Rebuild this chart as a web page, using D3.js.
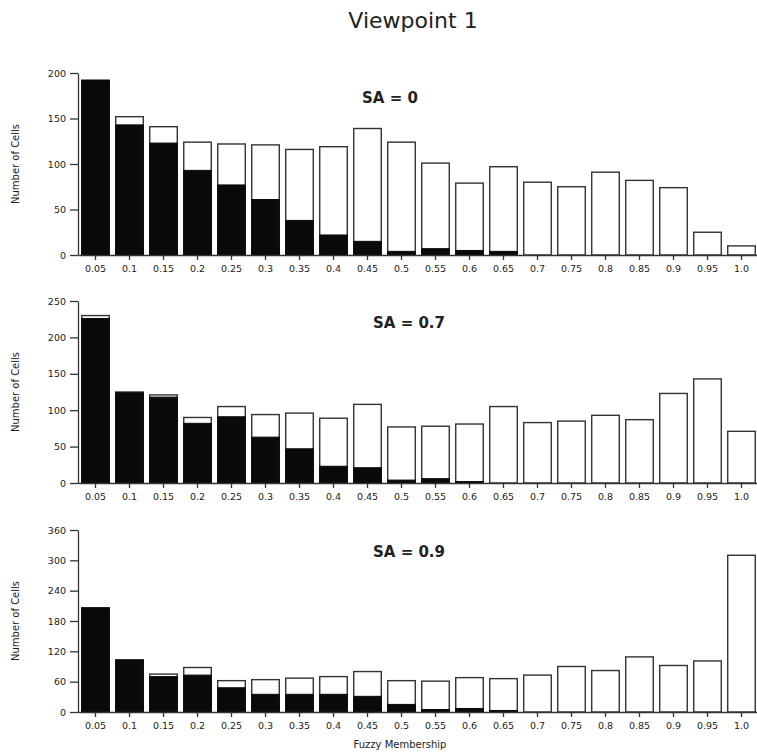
<!DOCTYPE html>
<html>
<head>
<meta charset="utf-8">
<script src="https://cdn.jsdelivr.net/npm/d3@7"></script>
<style>
  body { margin: 0; background: #fff; }
  svg text { font-family: "DejaVu Sans", sans-serif; fill: #222; }
</style>
</head>
<body>
<svg id="chart"></svg>
<script>
const width = 757;
const height = 753;

// Fuzzy membership classes
const categories = ["0.05", "0.1", "0.15", "0.2", "0.25", "0.3", "0.35", "0.4", "0.45", "0.5",
  "0.55", "0.6", "0.65", "0.7", "0.75", "0.8", "0.85", "0.9", "0.95", "1.0"];

// SA = 0
const totalSA0 = [192, 152, 141, 124, 122, 121, 116, 119, 139, 124, 101, 79, 97, 80, 75, 91, 82, 74, 25, 10];
const blackSA0 = [192, 143, 123, 93, 77, 61, 38, 22, 15, 4, 7, 5, 4, 0, 0, 0, 0, 0, 0, 0];
// SA = 0.7
const totalSA07 = [230, 125, 121, 90, 105, 94, 96, 89, 108, 77, 78, 81, 105, 83, 85, 93, 87, 123, 143, 71];
const blackSA07 = [226, 124, 118, 82, 91, 63, 47, 23, 21, 4, 6, 2, 0, 0, 0, 0, 0, 0, 0, 0];
// SA = 0.9
const totalSA09 = [206, 103, 75, 88, 62, 64, 67, 70, 80, 62, 61, 68, 66, 73, 90, 82, 109, 92, 101, 310];
const blackSA09 = [206, 103, 70, 73, 48, 35, 35, 35, 31, 15, 5, 7, 3, 0, 0, 0, 0, 0, 0, 0];

const ticksSA0 = [0, 50, 100, 150, 200];
const ticksSA07 = [0, 50, 100, 150, 200, 250];
const ticksSA09 = [0, 60, 120, 180, 240, 300, 360];

const panels = [
  { label: "SA = 0", total: totalSA0, black: blackSA0, ticks: ticksSA0, top: 73, labelX: 362, labelY: 103 },
  { label: "SA = 0.7", total: totalSA07, black: blackSA07, ticks: ticksSA07, top: 301, labelX: 373, labelY: 328 },
  { label: "SA = 0.9", total: totalSA09, black: blackSA09, ticks: ticksSA09, top: 530, labelX: 373, labelY: 557 }
];

const panelHeight = 182;
const axisX = 78;

const svg = d3.select("#chart")
  .attr("width", width)
  .attr("height", height);

// Title
svg.append("text")
  .attr("x", 413)
  .attr("y", 28)
  .attr("text-anchor", "middle")
  .style("font-size", "22px")
  .text("Viewpoint 1");

const x = d3.scaleBand()
  .domain(categories)
  .range([axisX, 759])
  .paddingInner(0.19)
  .paddingOuter(0.11);

panels.forEach(function(p) {
  const g = svg.append("g");
  const y = d3.scaleLinear()
    .domain([0, d3.max(p.ticks)])
    .range([p.top + panelHeight, p.top]);

  // White (total) bars
  g.selectAll(".total")
    .data(p.total)
    .enter().append("rect")
    .attr("x", (d, i) => x(categories[i]))
    .attr("y", d => y(d))
    .attr("width", x.bandwidth())
    .attr("height", d => y(0) - y(d))
    .attr("fill", "#fff")
    .attr("stroke", "#333")
    .attr("stroke-width", 1.4);

  // Black (subset) bars
  g.selectAll(".black")
    .data(p.black)
    .enter().append("rect")
    .attr("x", (d, i) => x(categories[i]))
    .attr("y", d => y(d))
    .attr("width", x.bandwidth())
    .attr("height", d => y(0) - y(d))
    .attr("fill", "#0a0a0a")
    .attr("stroke", "#0a0a0a")
    .attr("stroke-width", 1);

  // Axes
  const yAxis = g.append("g")
    .attr("transform", `translate(${axisX},0)`)
    .call(d3.axisLeft(y).tickValues(p.ticks).tickSize(8).tickSizeOuter(0).tickPadding(4));

  const xAxis = g.append("g")
    .attr("transform", `translate(0,${y(0)})`)
    .call(d3.axisBottom(x).tickSize(5).tickSizeOuter(0).tickPadding(5));

  [yAxis, xAxis].forEach(a => {
    a.selectAll("path, line").attr("stroke", "#333").attr("stroke-width", 1.3);
    a.selectAll("text").style("font-size", "9.5px").attr("fill", "#222")
      .style("font-family", "'DejaVu Sans', sans-serif");
  });

  // Y axis label
  svg.append("text")
    .attr("transform", `translate(19,${p.top + panelHeight / 2}) rotate(-90)`)
    .attr("text-anchor", "middle")
    .style("font-size", "10px")
    .text("Number of Cells");

  // Panel label
  svg.append("text")
    .attr("x", p.labelX)
    .attr("y", p.labelY)
    .style("font-size", "15px")
    .style("font-weight", "bold")
    .text(p.label);
});

// X axis label
svg.append("text")
  .attr("x", 400)
  .attr("y", 748)
  .attr("text-anchor", "middle")
  .style("font-size", "10px")
  .text("Fuzzy Membership");
</script>
</body>
</html>
